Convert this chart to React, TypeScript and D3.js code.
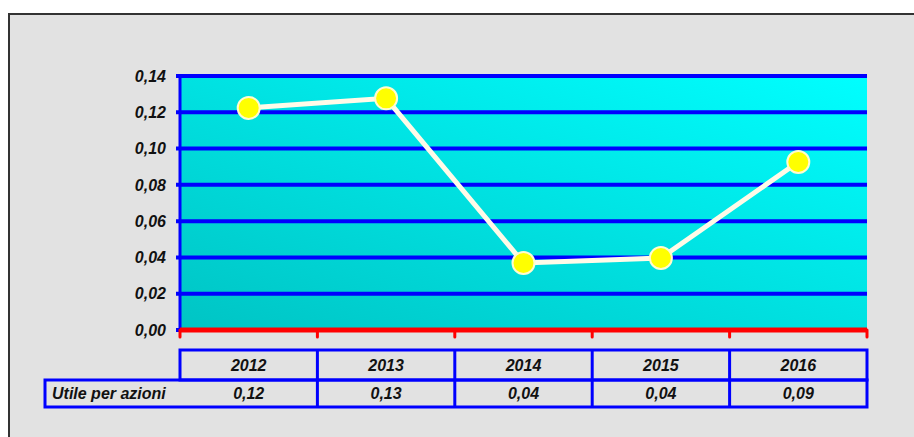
import React from "react";
import * as d3 from "d3";

const years = ["2012", "2013", "2014", "2015", "2016"];
const utile = [0.1224, 0.1277, 0.0369, 0.0397, 0.0926];
const tableValues = ["0,12", "0,13", "0,04", "0,04", "0,09"];
const yTicks = [0, 0.02, 0.04, 0.06, 0.08, 0.1, 0.12, 0.14];
const seriesName = "Utile per azioni";

const W = 914;
const H = 437;
const plot = { left: 180, top: 76, right: 867, bottom: 330 };
const tableTop = 350;
const tableMid = 380;
const tableBottom = 407;
const labelLeft = 45;

const font = "'Liberation Sans', Arial, sans-serif";

const App: React.FC = () => {
  const x = d3
    .scaleBand<string>()
    .domain(years)
    .range([plot.left, plot.right])
    .padding(0);
  const y = d3.scaleLinear().domain([0, 0.14]).range([plot.bottom, plot.top]);

  const line = d3
    .line<number>()
    .x((_, i) => (x(years[i]) as number) + x.bandwidth() / 2)
    .y((d) => y(d));

  const fmt = (v: number) => d3.format(".2f")(v).replace(".", ",");
  const bounds = years.map((yr) => x(yr) as number).concat([plot.right]);

  return (
    <svg
      width={W}
      height={H}
      style={{ position: "absolute", left: 0, top: 0, background: "#fff" }}
    >
      <defs>
        <linearGradient id="bg" x1="0" y1="1" x2="1" y2="0">
          <stop offset="0%" stopColor="#00c4c4" />
          <stop offset="100%" stopColor="#00ffff" />
        </linearGradient>
      </defs>
      <rect
        x={9}
        y={14}
        width={W + 20}
        height={H + 20}
        fill="#e2e2e2"
        stroke="#333"
        strokeWidth={2}
      />
      <rect
        x={plot.left}
        y={plot.top}
        width={plot.right - plot.left}
        height={plot.bottom - plot.top}
        fill="url(#bg)"
      />
      {yTicks.map((t) => (
        <g key={t}>
          <line
            x1={plot.left - 4}
            x2={t > 0 ? plot.right : plot.left}
            y1={y(t)}
            y2={y(t)}
            stroke="#0000ff"
            strokeWidth={4}
          />
          <text
            x={166}
            y={y(t)}
            dy="0.36em"
            textAnchor="end"
            fontFamily={font}
            fontSize={16}
            fontWeight="bold"
            fontStyle="italic"
            fill="#111"
          >
            {fmt(t)}
          </text>
        </g>
      ))}
      <line
        x1={plot.left}
        x2={plot.left}
        y1={plot.top}
        y2={plot.bottom}
        stroke="#0000ff"
        strokeWidth={3}
      />
      <line
        x1={plot.left}
        x2={plot.right}
        y1={plot.bottom}
        y2={plot.bottom}
        stroke="#ff0000"
        strokeWidth={5}
      />
      {bounds.map((b, i) => (
        <line
          key={i}
          x1={b}
          x2={b}
          y1={plot.bottom}
          y2={plot.bottom + 7}
          stroke="#ff0000"
          strokeWidth={3}
          strokeLinecap="round"
        />
      ))}
      <path
        d={line(utile) || ""}
        fill="none"
        stroke="#fffbe8"
        strokeWidth={5}
      />
      {utile.map((v, i) => (
        <circle
          key={i}
          cx={(x(years[i]) as number) + x.bandwidth() / 2}
          cy={y(v)}
          r={11}
          fill="#ffff00"
          stroke="#fffbd0"
          strokeWidth={2}
        />
      ))}
      {/* data table */}
      <g fill="none" stroke="#0000ff" strokeWidth={3}>
        <rect
          x={plot.left}
          y={tableTop}
          width={plot.right - plot.left}
          height={tableMid - tableTop}
        />
        <rect
          x={labelLeft}
          y={tableMid}
          width={plot.right - labelLeft}
          height={tableBottom - tableMid}
        />
        {bounds.slice(1, -1).map((b, i) => (
          <line key={i} x1={b} x2={b} y1={tableTop} y2={tableBottom} />
        ))}
      </g>
      {years.map((yr, i) => (
        <g
          key={yr}
          fontFamily={font}
          fontSize={16}
          fontWeight="bold"
          fontStyle="italic"
          fill="#111"
          textAnchor="middle"
        >
          <text
            x={(x(yr) as number) + x.bandwidth() / 2}
            y={(tableTop + tableMid) / 2}
            dy="0.36em"
          >
            {yr}
          </text>
          <text
            x={(x(yr) as number) + x.bandwidth() / 2}
            y={(tableMid + tableBottom) / 2}
            dy="0.36em"
          >
            {tableValues[i]}
          </text>
        </g>
      ))}
      <text
        x={labelLeft + 7}
        y={(tableMid + tableBottom) / 2}
        dy="0.36em"
        fontFamily={font}
        fontSize={16}
        fontWeight="bold"
        fontStyle="italic"
        fill="#111"
      >
        {seriesName}
      </text>
    </svg>
  );
};

export default App;
